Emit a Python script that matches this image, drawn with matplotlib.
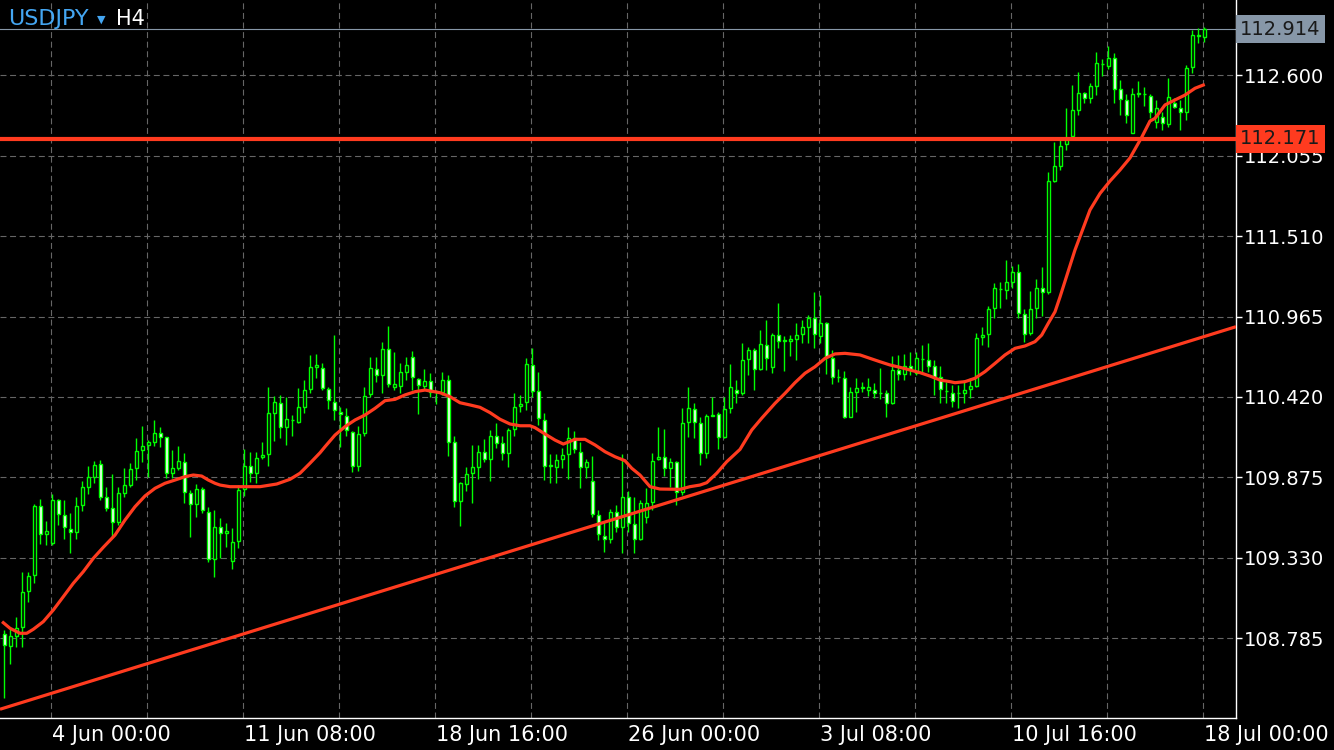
import matplotlib
matplotlib.use('Agg')
import matplotlib.pyplot as plt

# ---------------- data ----------------
symbol = "USDJPY"
timeframe = "H4"

opens = [108.813, 108.734, 108.802, 108.863, 109.107, 109.211, 109.681, 109.489, 109.432, 109.722,
         109.618, 109.523, 109.507, 109.690, 109.812, 109.880, 109.966, 109.740, 109.665, 109.571,
         109.767, 109.825, 109.937, 110.059, 110.092, 110.117, 110.174, 110.147, 109.903, 109.941,
         109.981, 109.767, 109.693, 109.794, 109.642, 109.320, 109.537, 109.496, 109.308, 109.446,
         109.796, 109.954, 109.903, 110.011, 110.032, 110.314, 110.377, 110.219, 110.262, 110.253,
         110.354, 110.472, 110.621, 110.615, 110.472, 110.388, 110.320, 110.293, 110.185, 109.952,
         110.174, 110.438, 110.608, 110.569, 110.743, 110.490, 110.495, 110.592, 110.689, 110.544,
         110.497, 110.528, 110.452, 110.456, 110.535, 110.113, 109.717, 109.830, 109.903, 109.947,
         110.045, 110.000, 110.158, 110.106, 110.038, 110.201, 110.357, 110.384, 110.637, 110.463,
         110.264, 109.957, 109.947, 109.998, 110.034, 110.140, 110.049, 109.947, 109.850, 109.618,
         109.480, 109.455, 109.642, 109.541, 109.740, 109.557, 109.455, 109.608, 109.706, 109.998,
         110.011, 109.937, 109.981, 109.774, 110.248, 110.337, 110.242, 110.038, 110.294, 110.303,
         110.147, 110.343, 110.467, 110.445, 110.676, 110.739, 110.608, 110.773, 110.625, 110.840,
         110.804, 110.800, 110.815, 110.845, 110.897, 110.954, 110.836, 110.920, 110.686, 110.556,
         110.547, 110.286, 110.456, 110.484, 110.467, 110.465, 110.447, 110.445, 110.377, 110.601,
         110.574, 110.630, 110.581, 110.676, 110.671, 110.630, 110.558, 110.459, 110.449, 110.447,
         110.449, 110.472, 110.497, 110.825, 110.845, 111.021, 111.150, 111.145, 111.202, 111.265,
         110.981, 110.852, 111.021, 111.157, 111.130, 111.886, 111.986, 112.135, 112.190, 112.366,
         112.479, 112.445, 112.531, 112.678, 112.666, 112.716, 112.506, 112.434, 112.212, 112.477,
         112.472, 112.463, 112.284, 112.320, 112.271, 112.411, 112.377, 112.354, 112.655, 112.872,
         112.863]

highs = [108.840, 108.845, 108.928, 109.234, 109.234, 109.693, 109.726, 109.581, 109.762, 109.726,
         109.722, 109.632, 109.740, 109.853, 109.952, 109.986, 109.993, 109.812, 109.896, 109.808,
         109.937, 109.971, 110.140, 110.223, 110.128, 110.264, 110.219, 110.151, 110.061, 110.088,
         110.038, 109.789, 109.830, 109.812, 109.676, 109.654, 109.598, 109.564, 109.530, 109.823,
         110.067, 110.045, 110.045, 110.117, 110.486, 110.427, 110.434, 110.418, 110.298, 110.479,
         110.535, 110.705, 110.712, 110.648, 110.486, 110.840, 110.354, 110.343, 110.189, 110.223,
         110.486, 110.693, 110.693, 110.795, 110.903, 110.727, 110.648, 110.693, 110.734, 110.551,
         110.610, 110.581, 110.467, 110.592, 110.569, 110.156, 109.846, 109.947, 110.095, 110.095,
         110.135, 110.196, 110.242, 110.156, 110.210, 110.445, 110.434, 110.682, 110.750, 110.592,
         110.309, 110.034, 110.034, 110.072, 110.215, 110.189, 110.117, 110.000, 110.020, 109.654,
         109.575, 109.661, 109.688, 110.034, 109.785, 109.744, 109.722, 109.801, 110.038, 110.219,
         110.201, 110.004, 109.986, 110.343, 110.486, 110.377, 110.286, 110.305, 110.418, 110.320,
         110.418, 110.644, 110.535, 110.784, 110.761, 110.750, 110.874, 110.942, 110.852, 111.059,
         110.834, 110.840, 110.920, 110.942, 110.976, 111.134, 111.112, 110.931, 110.739, 110.608,
         110.596, 110.486, 110.547, 110.524, 110.547, 110.517, 110.619, 110.467, 110.698, 110.705,
         110.710, 110.727, 110.727, 110.773, 110.784, 110.671, 110.630, 110.524, 110.501, 110.501,
         110.535, 110.547, 110.852, 110.897, 111.039, 111.191, 111.198, 111.349, 111.308, 111.322,
         111.015, 111.139, 111.218, 111.303, 111.947, 112.149, 112.162, 112.377, 112.535, 112.621,
         112.490, 112.547, 112.761, 112.710, 112.800, 112.750, 112.569, 112.472, 112.513, 112.562,
         112.524, 112.472, 112.434, 112.354, 112.581, 112.447, 112.434, 112.671, 112.908, 112.920,
         112.931]

lows = [108.379, 108.610, 108.723, 108.727, 109.032, 109.159, 109.423, 109.417, 109.417, 109.552,
        109.457, 109.364, 109.457, 109.649, 109.762, 109.835, 109.722, 109.649, 109.473, 109.552,
        109.744, 109.812, 109.857, 109.981, 109.880, 110.090, 110.079, 109.869, 109.869, 109.925,
        109.699, 109.473, 109.604, 109.632, 109.303, 109.198, 109.326, 109.401, 109.254, 109.394,
        109.749, 109.846, 109.839, 109.998, 109.952, 110.124, 110.140, 110.095, 110.158, 110.242,
        110.309, 110.447, 110.547, 110.467, 110.339, 110.264, 110.083, 110.156, 109.914, 109.920,
        110.156, 110.422, 110.524, 110.449, 110.486, 110.467, 110.445, 110.535, 110.467, 110.303,
        110.472, 110.422, 110.373, 110.434, 110.020, 109.676, 109.545, 109.783, 109.703, 109.864,
        109.977, 109.850, 110.072, 109.993, 109.947, 110.156, 110.320, 110.332, 110.422, 110.230,
        109.857, 109.839, 109.839, 109.937, 109.862, 110.042, 109.801, 109.873, 109.608, 109.450,
        109.371, 109.428, 109.507, 109.364, 109.507, 109.360, 109.450, 109.564, 109.654, 109.993,
        109.884, 109.812, 109.688, 109.756, 110.151, 110.144, 109.959, 110.004, 110.291, 110.065,
        110.140, 110.309, 110.377, 110.434, 110.569, 110.467, 110.603, 110.603, 110.585, 110.750,
        110.598, 110.698, 110.671, 110.784, 110.784, 110.750, 110.784, 110.576, 110.508, 110.524,
        110.276, 110.282, 110.320, 110.456, 110.427, 110.411, 110.404, 110.282, 110.372, 110.535,
        110.535, 110.569, 110.569, 110.581, 110.592, 110.434, 110.381, 110.381, 110.354, 110.343,
        110.377, 110.411, 110.486, 110.773, 110.761, 110.954, 111.025, 111.082, 111.157, 110.954,
        110.795, 110.840, 110.954, 110.969, 111.118, 111.878, 111.959, 112.095, 112.185, 112.332,
        112.411, 112.411, 112.467, 112.598, 112.642, 112.415, 112.332, 112.276, 112.208, 112.452,
        112.395, 112.310, 112.244, 112.230, 112.248, 112.379, 112.230, 112.298, 112.615, 112.818,
        112.829]

closes = [108.739, 108.800, 108.854, 109.096, 109.206, 109.681, 109.489, 109.512, 109.722, 109.625,
          109.537, 109.507, 109.679, 109.808, 109.876, 109.959, 109.744, 109.669, 109.571, 109.767,
          109.821, 109.930, 110.052, 110.086, 110.115, 110.174, 110.151, 109.903, 109.937, 109.986,
          109.774, 109.693, 109.794, 109.654, 109.320, 109.537, 109.496, 109.510, 109.439, 109.789,
          109.954, 109.903, 110.004, 110.025, 110.309, 110.384, 110.219, 110.269, 110.266, 110.350,
          110.467, 110.623, 110.637, 110.479, 110.400, 110.332, 110.303, 110.196, 109.952, 110.167,
          110.429, 110.615, 110.569, 110.743, 110.508, 110.508, 110.587, 110.637, 110.554, 110.499,
          110.528, 110.456, 110.456, 110.535, 110.117, 109.717, 109.835, 109.898, 109.945, 110.045,
          110.000, 110.156, 110.110, 110.038, 110.196, 110.350, 110.371, 110.644, 110.463, 110.276,
          109.954, 109.952, 109.993, 110.027, 110.140, 110.067, 109.943, 109.977, 109.627, 109.489,
          109.455, 109.642, 109.541, 109.740, 109.564, 109.455, 109.699, 109.699, 109.988, 110.011,
          109.937, 109.981, 109.778, 110.242, 110.343, 110.248, 110.038, 110.291, 110.298, 110.147,
          110.337, 110.486, 110.445, 110.671, 110.739, 110.608, 110.779, 110.682, 110.840, 110.802,
          110.802, 110.811, 110.840, 110.893, 110.954, 110.845, 110.920, 110.693, 110.554, 110.554,
          110.286, 110.452, 110.479, 110.486, 110.486, 110.449, 110.445, 110.377, 110.603, 110.574,
          110.630, 110.608, 110.682, 110.678, 110.632, 110.558, 110.472, 110.461, 110.395, 110.449,
          110.467, 110.495, 110.818, 110.840, 111.015, 111.157, 111.152, 111.198, 111.270, 110.987,
          110.847, 111.015, 111.157, 111.130, 111.886, 111.986, 112.122, 112.174, 112.366, 112.479,
          112.445, 112.528, 112.682, 112.676, 112.716, 112.506, 112.438, 112.332, 112.472, 112.479,
          112.474, 112.350, 112.379, 112.276, 112.452, 112.384, 112.354, 112.648, 112.874, 112.870,
          112.914]

# moving average indicator (bar index, value)
ma_bar = [-0.17, 0.95, 2.62, 3.73, 4.83, 6.5, 8.17, 9.83, 11.5, 13.17,
          14.83, 16.5, 18.45, 20.12, 21.78, 23.45, 25.12, 26.78, 28.45, 30.12,
          31.5, 32.9, 34.0, 35.12, 35.95, 37.62, 39.83, 42.62, 45.4, 47.62,
          49.28, 50.95, 52.62, 53.45, 55.12, 56.78, 58.45, 60.12, 61.78, 63.45,
          65.12, 66.78, 68.45, 70.12, 72.62, 74.28, 75.95, 77.62, 79.28, 80.95,
          82.62, 84.28, 85.95, 87.62, 88.45, 90.12, 91.78, 93.17, 95.12, 96.78,
          98.45, 100.12, 101.78, 103.45, 104.57, 105.95, 107.62, 109.28, 112.62, 114.28,
          115.95, 117.07, 118.73, 120.4, 122.62, 124.57, 126.23, 128.45, 130.12, 131.78,
          133.45, 135.12, 136.78, 138.45, 140.12, 142.62, 144.28, 145.95, 147.62, 149.28,
          150.95, 152.62, 154.28, 155.95, 157.62, 158.45, 160.12, 161.78, 163.45, 165.12,
          166.78, 168.45, 170.12, 171.78, 172.9, 174.0, 175.12, 175.95, 178.45, 180.95,
          182.62, 184.28, 185.95, 187.62, 189.57, 190.95, 191.78, 193.45, 195.12, 196.78,
          198.45, 199.83]
ma_val = [108.890, 108.852, 108.818, 108.818, 108.845, 108.897, 108.976, 109.066, 109.157, 109.236,
          109.326, 109.401, 109.484, 109.586, 109.676, 109.749, 109.801, 109.835, 109.857, 109.880,
          109.891, 109.884, 109.857, 109.835, 109.823, 109.812, 109.812, 109.812, 109.830, 109.862,
          109.903, 109.971, 110.042, 110.083, 110.162, 110.219, 110.264, 110.298, 110.343, 110.395,
          110.404, 110.434, 110.456, 110.467, 110.449, 110.422, 110.381, 110.366, 110.350, 110.314,
          110.269, 110.237, 110.225, 110.225, 110.212, 110.169, 110.128, 110.101, 110.133, 110.133,
          110.095, 110.049, 110.015, 109.988, 109.937, 109.891, 109.812, 109.796, 109.794, 109.812,
          109.823, 109.839, 109.903, 109.981, 110.065, 110.196, 110.276, 110.377, 110.445, 110.517,
          110.581, 110.625, 110.682, 110.712, 110.716, 110.705, 110.682, 110.659, 110.637, 110.621,
          110.603, 110.585, 110.562, 110.535, 110.524, 110.517, 110.524, 110.547, 110.592, 110.648,
          110.705, 110.750, 110.766, 110.795, 110.840, 110.920, 110.998, 111.098, 111.417, 111.688,
          111.800, 111.884, 111.959, 112.041, 112.181, 112.291, 112.309, 112.400, 112.434, 112.467,
          112.513, 112.535]

# trend line anchors (bar index, price)
trend_bar = [0, 200]
trend_price = [108.312, 110.830]

# horizontal level and current price
level_price = 112.171
last_price = 112.914

price_ticks = [112.600, 112.055, 111.510, 110.965, 110.420, 109.875, 109.330, 108.785]
time_tick_bars = [8, 40, 72, 104, 136, 168, 200]
time_tick_labels = ["4 Jun 00:00", "11 Jun 08:00", "18 Jun 16:00", "26 Jun 00:00",
                    "3 Jul 08:00", "10 Jul 16:00", "18 Jul 00:00"]
grid_bars = list(range(8, 201, 16))

# ---------------- styling ----------------
plt.rcParams['font.family'] = ['DejaVu Sans']
plt.rcParams['lines.scale_dashes'] = False
LIME = '#00ff00'
RED = '#ff3b1f'
GRID = '#666666'
BIDGRAY = '#8797a8'
BLUE = '#44a6f2'
FS = 14

W, H = 1334, 750
fig = plt.figure(figsize=(W / 100, H / 100), dpi=100, facecolor='black')
plot_right, plot_bottom = 1236, 718
ax = fig.add_axes([0, 1 - plot_bottom / H, plot_right / W, plot_bottom / H])
ax.set_facecolor('black')

first_x, bar_px = 4.3, 6.0
ax.set_xlim(-first_x / bar_px, (plot_right - first_x) / bar_px)
ax.set_ylim(108.2437, 113.1115)

for s in ['top', 'left']:
    ax.spines[s].set_visible(False)
for s in ['right', 'bottom']:
    ax.spines[s].set_color('white')
    ax.spines[s].set_linewidth(1.0)

# grid
dash = (0, (4.3, 2.6))
for p in price_ticks:
    ax.axhline(p, color=GRID, lw=0.8, linestyle=dash, zorder=1)
for b in grid_bars:
    ax.axvline(b - 0.2, color=GRID, lw=0.8, linestyle=dash, zorder=1)

# bid line
ax.axhline(last_price, color=BIDGRAY, lw=0.8, zorder=2)

# candles
bars = list(range(len(opens)))
ax.vlines(bars, lows, highs, color=LIME, lw=1.0, zorder=3)
bottoms = [min(o, c) for o, c in zip(opens, closes)]
heights = [abs(c - o) for o, c in zip(opens, closes)]
fills = ['black' if c > o else 'white' for o, c in zip(opens, closes)]
ax.bar(bars, heights, bottom=bottoms, width=0.55, color=fills, edgecolor=LIME,
       linewidth=1.0, zorder=4)

# indicator lines
ax.axline((trend_bar[0], trend_price[0]), (trend_bar[1], trend_price[1]),
          color=RED, lw=2.3, zorder=5, solid_capstyle='butt')
ax.plot(ma_bar, ma_val, color=RED, lw=2.3, zorder=6, solid_joinstyle='round')
ax.axhline(level_price, color=RED, lw=3.0, zorder=6)

# price axis
ax.yaxis.tick_right()
ax.set_yticks(price_ticks)
ax.set_yticklabels([f"{p:.3f}" for p in price_ticks])
ax.tick_params(axis='y', colors='white', labelcolor='white', length=4, width=1,
               labelsize=FS, pad=2)

# time axis
ax.set_xticks(time_tick_bars)
ax.set_xticklabels(time_tick_labels)
for t in ax.get_xticklabels():
    t.set_horizontalalignment('left')
ax.tick_params(axis='x', colors='white', labelcolor='white', length=0, width=1,
               labelsize=15, pad=5)

# price boxes
ytr = ax.get_yaxis_transform()
ax.text(1.0 + 4 / plot_right, last_price, f"{last_price:.3f}", transform=ytr,
        ha='left', va='center', fontsize=FS, color='#1a1a1a', clip_on=False, zorder=10,
        bbox=dict(boxstyle='square,pad=0.22', fc=BIDGRAY, ec='none'))
ax.text(1.0 + 4 / plot_right, level_price, f"{level_price:.3f}", transform=ytr,
        ha='left', va='center', fontsize=FS, color='#1a1a1a', clip_on=False, zorder=10,
        bbox=dict(boxstyle='square,pad=0.22', fc=RED, ec='none'))

# symbol / timeframe caption
fig.text(8 / W, 1 - 19 / H, symbol, color=BLUE, fontsize=16, va='center', ha='left')
fig.text(97 / W, 1 - 20 / H, '\u25BC', color=BLUE, fontsize=8, va='center', ha='left')
fig.text(116 / W, 1 - 19 / H, timeframe, color='white', fontsize=15, va='center', ha='left')

fig.savefig('out.png', dpi=100, facecolor='black')
